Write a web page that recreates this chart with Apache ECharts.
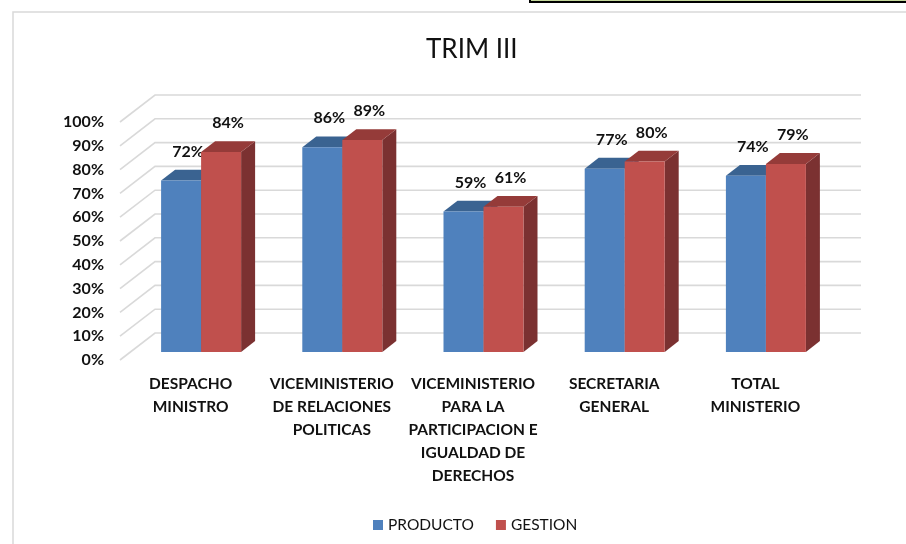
<!DOCTYPE html>
<html>
<head>
<meta charset="utf-8">
<style>
  html, body { margin: 0; padding: 0; background: #fff; }
  #chart { width: 906px; height: 544px; }
</style>
<script src="https://cdn.jsdelivr.net/npm/echarts@6/dist/echarts.min.js"></script>
</head>
<body>
<div id="chart"></div>
<script>
// datos del grafico
const categories = [
  'DESPACHO\nMINISTRO',
  'VICEMINISTERIO\nDE RELACIONES\nPOLITICAS',
  'VICEMINISTERIO\nPARA LA\nPARTICIPACION E\nIGUALDAD DE\nDERECHOS',
  'SECRETARIA\nGENERAL',
  'TOTAL\nMINISTERIO'
]
const producto = [0.72, 0.86, 0.59, 0.77, 0.74]
const gestion = [0.84, 0.89, 0.61, 0.80, 0.79]
const yTicks = [0, 0.1, 0.2, 0.3, 0.4, 0.5, 0.6, 0.7, 0.8, 0.9, 1.0]

// profundidad 3D (pixeles) del plano frontal al fondo
const DX = 35
const DY = 27
const BAR_FRONT = 0.3
const BAR_DEPTH = 0.4
const BAR_W = 40
const FONT = 'Lato, "Open Sans", sans-serif'

const chart = echarts.init(document.getElementById('chart'))

const gridRender = (params, api) => {
  const y = api.coord([0, api.value(1)])[1]
  const left = params.coordSys.x
  const right = params.coordSys.x + params.coordSys.width
  return {
    type: 'polyline',
    shape: { points: [[left, y], [left + DX, y - DY], [right + DX, y - DY]] },
    style: { stroke: '#d9d9d9', lineWidth: 1.6, fill: null }
  }
}

const barRender = (side, front, top, sideCol) => (params, api) => {
  const cat = api.value(0)
  const v = api.value(1)
  const base = api.coord([cat, 0])
  const tp = api.coord([cat, v])
  const xl = base[0] + BAR_FRONT * DX + (side === 0 ? -BAR_W : 0)
  const xr = xl + BAR_W
  const yb = base[1] - BAR_FRONT * DY
  const yt = tp[1] - BAR_FRONT * DY
  const bdx = BAR_DEPTH * DX
  const bdy = -BAR_DEPTH * DY
  return {
    type: 'group',
    children: [
      {
        type: 'polygon',
        shape: { points: [[xr, yt], [xr + bdx, yt + bdy], [xr + bdx, yb + bdy], [xr, yb]] },
        style: { fill: sideCol }
      },
      {
        type: 'polygon',
        shape: { points: [[xl, yt], [xr, yt], [xr + bdx, yt + bdy], [xl + bdx, yt + bdy]] },
        style: { fill: top }
      },
      {
        type: 'rect',
        shape: { x: xl, y: yt, width: BAR_W, height: yb - yt },
        style: { fill: front }
      },
      {
        type: 'text',
        x: xl + BAR_W / 2 + bdx / 2,
        y: yt - 29,
        style: {
          text: Math.round(v * 100) + '%',
          fill: '#111',
          font: 'bold 16px ' + FONT,
          align: 'center',
          verticalAlign: 'middle'
        }
      }
    ]
  }
}

const option = {
  animation: false,
  backgroundColor: '#fff',
  title: {
    text: 'TRIM III',
    left: 421,
    top: 32,
    textStyle: { fontFamily: FONT, fontWeight: 'normal', fontSize: 26, color: '#111' }
  },
  legend: {
    data: ['PRODUCTO', 'GESTION'],
    left: 368,
    top: 512,
    icon: 'rect',
    itemWidth: 10,
    itemHeight: 10,
    itemGap: 22,
    textStyle: { fontFamily: FONT, fontSize: 15.5, color: '#111' }
  },
  grid: { left: 120, right: 80, top: 122, bottom: 184 },
  xAxis: {
    type: 'category',
    data: categories,
    axisLine: { show: false },
    axisTick: { show: false },
    axisLabel: {
      interval: 0,
      margin: 12,
      fontFamily: FONT,
      fontWeight: 'bold',
      fontSize: 15.5,
      lineHeight: 23,
      color: '#111'
    }
  },
  yAxis: {
    type: 'value',
    min: yTicks[0],
    max: yTicks[yTicks.length - 1],
    interval: 0.1,
    splitLine: { show: false },
    axisLine: { show: false },
    axisTick: { show: false },
    axisLabel: {
      margin: 16,
      fontFamily: FONT,
      fontWeight: 'bold',
      fontSize: 16,
      color: '#111',
      formatter: (v) => Math.round(v * 100) + '%'
    }
  },
  graphic: [
    {
      type: 'rect',
      z: -10,
      shape: { x: 13, y: 12, width: 1000, height: 1000 },
      style: { fill: null, stroke: '#d9d9d9', lineWidth: 1.5 }
    },
    {
      type: 'rect',
      shape: { x: 530, y: -3, width: 400, height: 5 },
      style: { fill: '#c4d79b', stroke: '#000', lineWidth: 2 }
    }
  ],
  series: [
    {
      type: 'custom',
      silent: true,
      clip: false,
      z: 1,
      renderItem: gridRender,
      data: yTicks.map(v => [0, v])
    },
    {
      name: 'PRODUCTO',
      type: 'custom',
      clip: false,
      z: 2,
      itemStyle: { color: '#4f81bd' },
      renderItem: barRender(0, '#4f81bd', '#3a6391', '#2f527c'),
      data: producto.map((v, i) => [i, v])
    },
    {
      name: 'GESTION',
      type: 'custom',
      clip: false,
      z: 2,
      itemStyle: { color: '#c0504d' },
      renderItem: barRender(1, '#c0504d', '#953b39', '#7b3131'),
      data: gestion.map((v, i) => [i, v])
    }
  ]
}

chart.setOption(option)
window.addEventListener('resize', () => chart.resize())
</script>
</body>
</html>
